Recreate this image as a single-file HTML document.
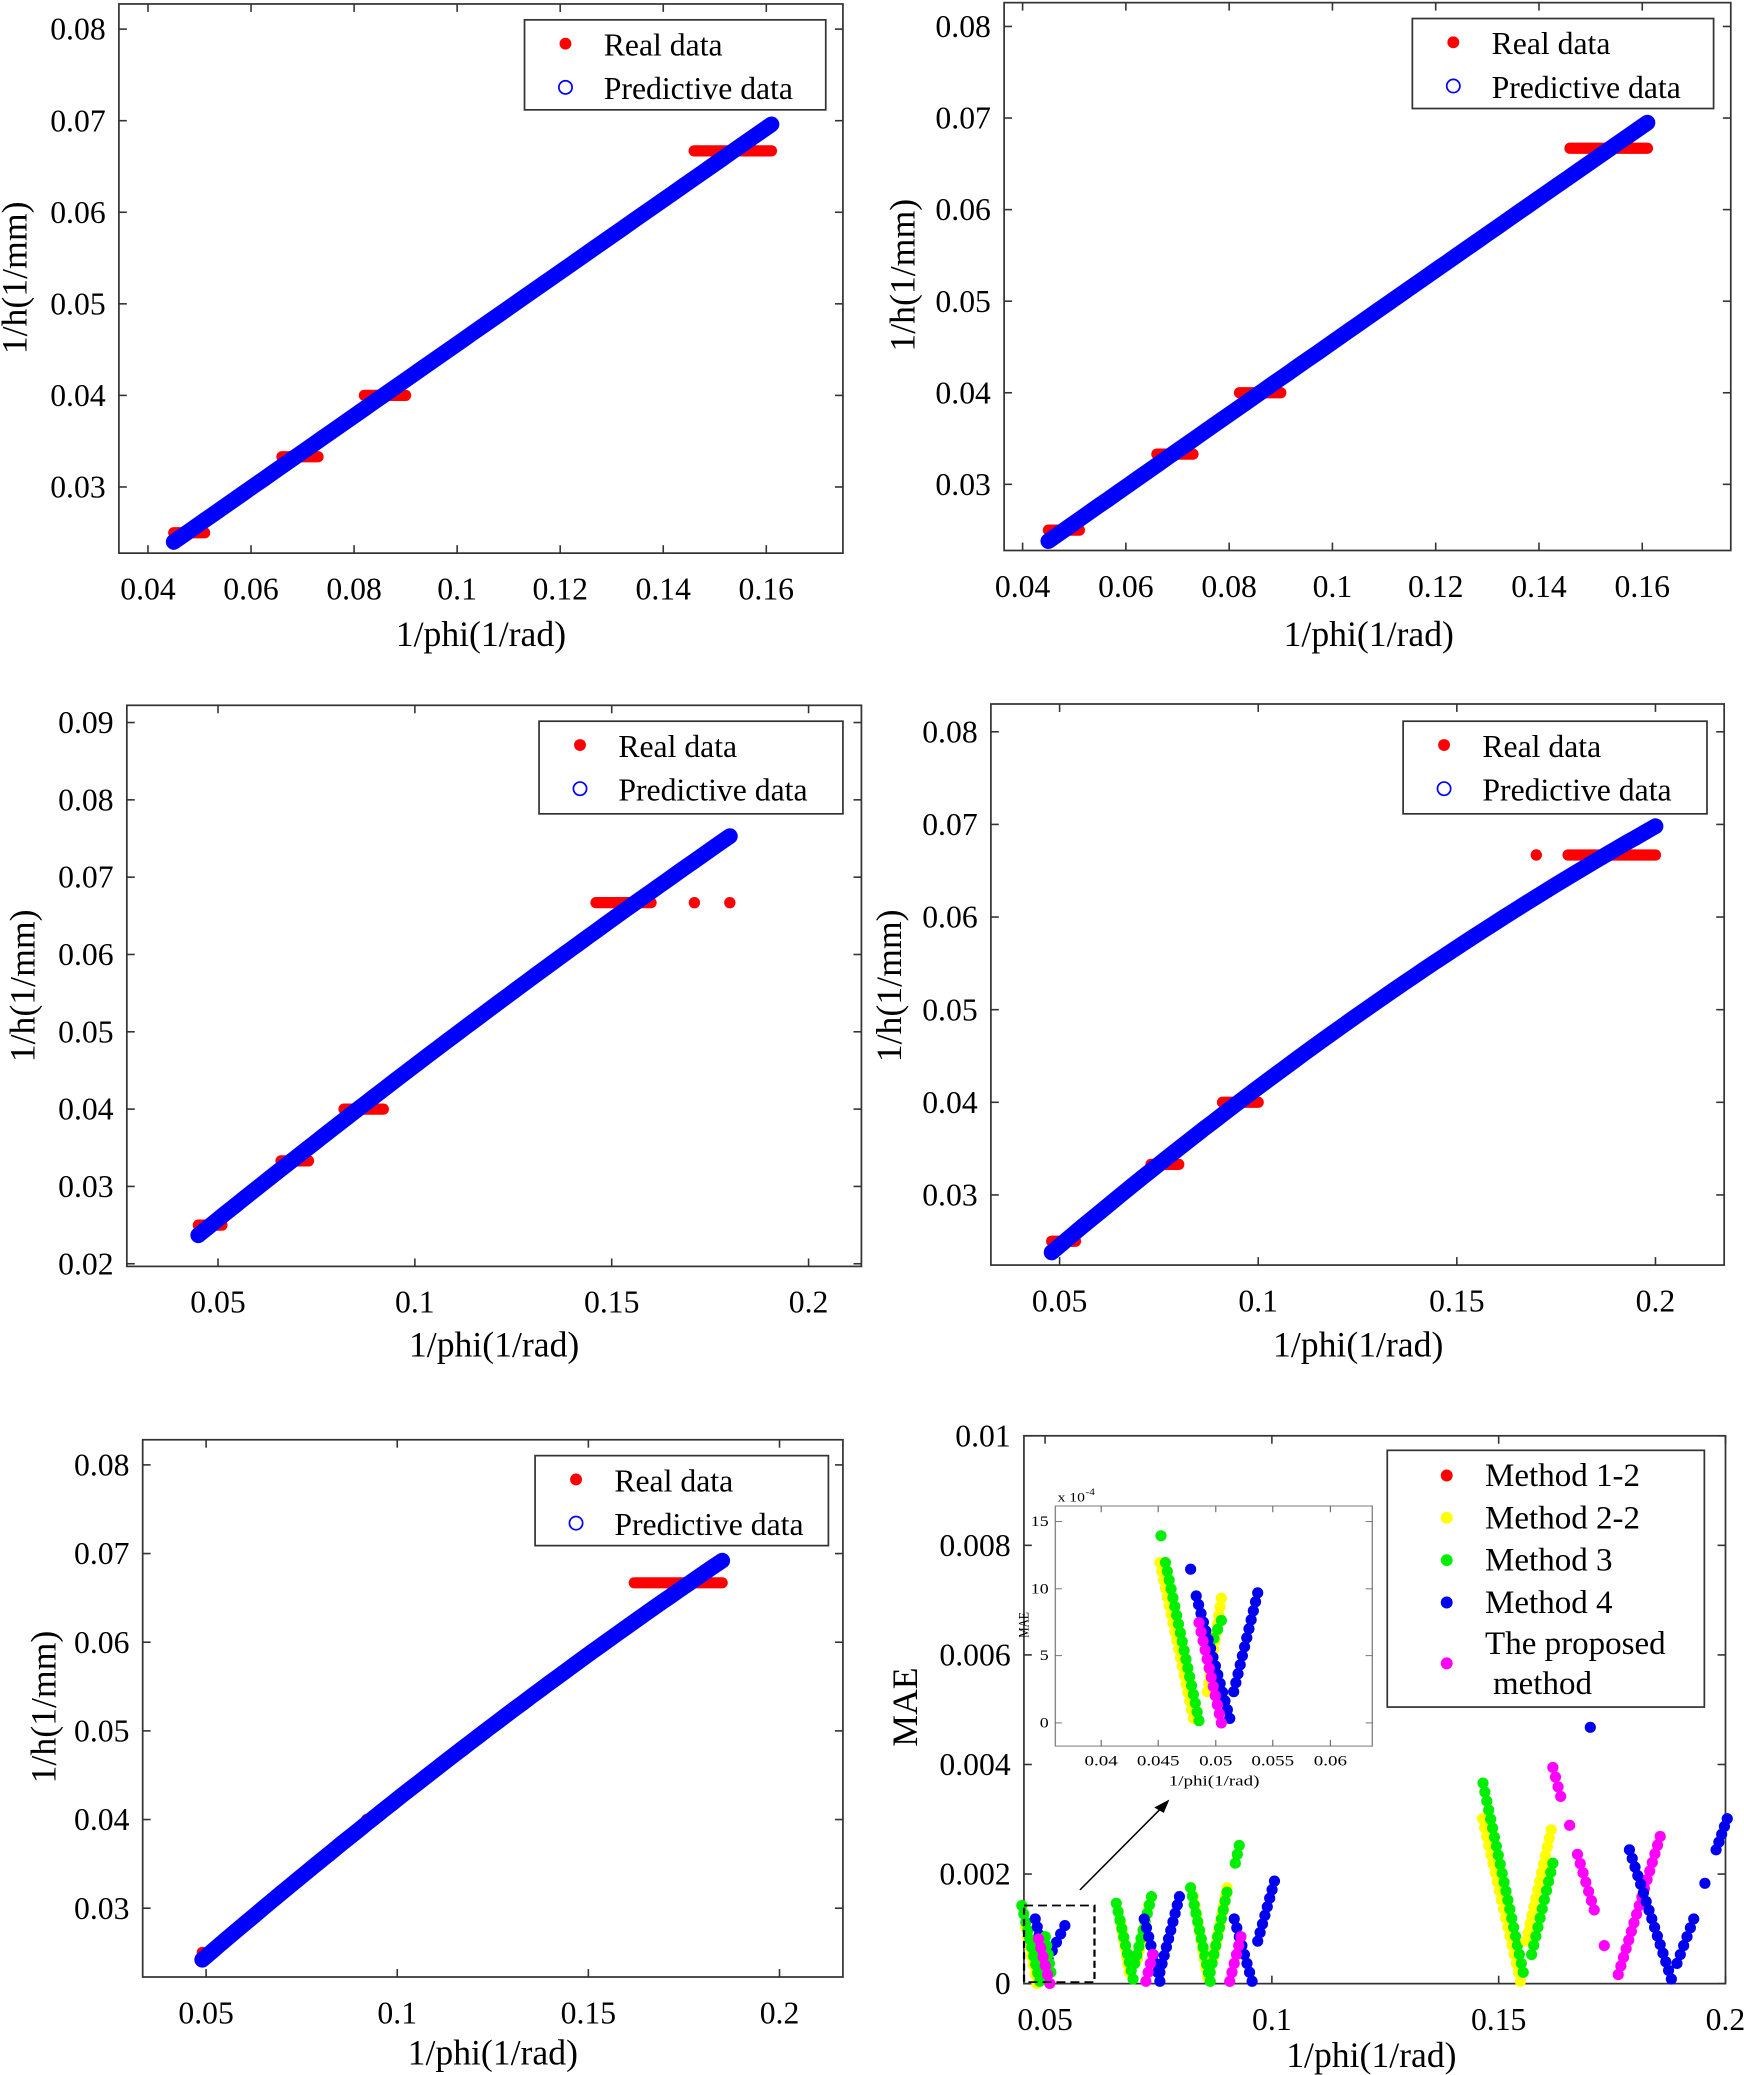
<!DOCTYPE html>
<html><head><meta charset="utf-8"><style>
html,body{margin:0;padding:0;background:#fff;}
svg{display:block;}
text{font-family:"Liberation Serif",serif;fill:#000;}
</style></head><body>
<svg id="s" xmlns="http://www.w3.org/2000/svg" width="1744" height="2075" viewBox="0 0 1744 2075">
<rect width="1744" height="2075" fill="#fff"/>
<g id="m" transform="scale(1.3212,1.3233)" font-family="Liberation Serif, serif"></g>
</svg>
<script>
const NS="http://www.w3.org/2000/svg";
const M=document.getElementById('m');
function el(tag,attrs,parent,txt){const e=document.createElementNS(NS,tag);for(const k in attrs)e.setAttribute(k,attrs[k]);if(tag==='text')e.setAttribute('font-family','Liberation Serif, serif');if(txt!==undefined)e.textContent=txt;(parent||M).appendChild(e);return e;}
function quad(p){
  const [a,b,c]=p;
  return x=>{const l0=(x-b[0])*(x-c[0])/((a[0]-b[0])*(a[0]-c[0]));const l1=(x-a[0])*(x-c[0])/((b[0]-a[0])*(b[0]-c[0]));const l2=(x-a[0])*(x-b[0])/((c[0]-a[0])*(c[0]-b[0]));return a[1]*l0+b[1]*l1+c[1]*l2;};
}
function panel(o){
  const X=v=>o.xp0+(v-o.xv0)*(o.xp1-o.xp0)/(o.xv1-o.xv0);
  const Y=v=>o.yp0+(v-o.yv0)*(o.yp1-o.yp0)/(o.yv1-o.yv0);
  const [L,T,R,B]=o.box;
  const g=el('g',{});
  const cp='c'+Math.round(L)+Math.round(T);
  const cl=el('clipPath',{id:cp},g);el('rect',{x:L,y:T,width:R-L,height:B-T},cl);
  const d=el('g',{'clip-path':'url(#'+cp+')'},g);
  o.red.forEach(r=>{ if(r.length===3) el('line',{x1:X(r[0]),y1:Y(r[2]),x2:X(r[1]),y2:Y(r[2]),stroke:'#ff0000','stroke-width':8.5,'stroke-linecap':'round'},d);
    else el('circle',{cx:X(r[0]),cy:Y(r[1]),r:4.3,fill:'#ff0000'},d);});
  const f=quad(o.curve);let pts=[];
  for(let i=0;i<=60;i++){const x=o.curve[0][0]+(o.curve[2][0]-o.curve[0][0])*i/60;pts.push(X(x).toFixed(1)+','+Y(f(x)).toFixed(1));}
  el('polyline',{points:pts.join(' '),fill:'none',stroke:'#0000ff','stroke-width':12,'stroke-linecap':'round','stroke-linejoin':'round'},d);
  axes(g,o,X,Y);
  const [lx,ly,lx2,ly2]=o.leg;
  el('rect',{x:lx,y:ly,width:lx2-lx,height:ly2-ly,fill:'#fff',stroke:'#333','stroke-width':1.3},g);
  el('circle',{cx:lx+31,cy:ly+18,r:4.5,fill:'#ff0000'},g);
  el('circle',{cx:lx+31,cy:ly+51,r:5,fill:'none',stroke:'#0000ff','stroke-width':1.3},g);
  el('text',{x:lx+60,y:ly+27,'font-size':24},g,'Real data');
  el('text',{x:lx+60,y:ly+60,'font-size':24},g,'Predictive data');
}
function axes(g,o,X,Y){
  const [L,T,R,B]=o.box;
  el('rect',{x:L,y:T,width:R-L,height:B-T,fill:'none',stroke:'#333','stroke-width':1.3},g);
  o.xt.forEach(t=>{const x=X(t[0]);el('line',{x1:x,y1:B,x2:x,y2:B-6,stroke:'#333','stroke-width':1.2},g);el('line',{x1:x,y1:T,x2:x,y2:T+6,stroke:'#333','stroke-width':1.2},g);
    el('text',{x:x,y:B+35,'font-size':o.fs||24,'text-anchor':'middle'},g,t[1]);});
  o.yt.forEach(t=>{const y=Y(t[0]);el('line',{x1:L,y1:y,x2:L+6,y2:y,stroke:'#333','stroke-width':1.2},g);el('line',{x1:R,y1:y,x2:R-6,y2:y,stroke:'#333','stroke-width':1.2},g);
    el('text',{x:L-10,y:y+8,'font-size':o.fs||24,'text-anchor':'end'},g,t[1]);});
  el('text',{x:o.xl[0],y:o.xl[1],'font-size':27,'text-anchor':'middle'},g,o.xlab||'1/phi(1/rad)');
  el('text',{x:0,y:0,'font-size':27,'text-anchor':'middle',transform:`translate(${o.yl[0]},${o.yl[1]}) rotate(-90)`},g,o.ylab||'1/h(1/mm)');
}
const xt1=[[0.04,'0.04'],[0.06,'0.06'],[0.08,'0.08'],[0.1,'0.1'],[0.12,'0.12'],[0.14,'0.14'],[0.16,'0.16']];
const yt1=[[0.03,'0.03'],[0.04,'0.04'],[0.05,'0.05'],[0.06,'0.06'],[0.07,'0.07'],[0.08,'0.08']];
const red1=[[0.045,0.051,0.025],[0.066,0.073,0.0333],[0.082,0.09,0.04],[0.146,0.161,0.0667]];
panel({box:[90,3,638,418],xv0:0.04,xv1:0.16,xp0:112,xp1:580,yv0:0.03,yv1:0.08,yp0:368,yp1:22,
  xt:xt1,yt:yt1,red:red1,curve:[[0.045,0.0240],[0.103,0.0468],[0.161,0.0696]],leg:[397,15,625,83],xl:[364,488],yl:[20,210]});
panel({box:[760,2,1310,416],xv0:0.04,xv1:0.16,xp0:774,xp1:1243,yv0:0.03,yv1:0.08,yp0:366,yp1:20,
  xt:xt1,yt:yt1,red:red1,curve:[[0.045,0.0238],[0.103,0.0467],[0.161,0.0695]],leg:[1069,14,1297,82],xl:[1036,488],yl:[692,208]});
const xt2=[[0.05,'0.05'],[0.1,'0.1'],[0.15,'0.15'],[0.2,'0.2']];
panel({box:[96,533,652,957],xv0:0.05,xv1:0.2,xp0:165,xp1:612,yv0:0.02,yv1:0.09,yp0:955,yp1:546,
  xt:xt2,yt:[[0.02,'0.02'],[0.03,'0.03'],[0.04,'0.04'],[0.05,'0.05'],[0.06,'0.06'],[0.07,'0.07'],[0.08,'0.08'],[0.09,'0.09']],
  red:[[0.045,0.051,0.025],[0.066,0.073,0.0333],[0.082,0.092,0.04],[0.146,0.16,0.0667],[0.171,0.0667],[0.18,0.0667]],
  curve:[[0.045,0.0237],[0.11,0.0495],[0.18,0.0753]],leg:[408,545,638,615],xl:[374,1025],yl:[26,745]});
panel({box:[750,532,1305,956],xv0:0.05,xv1:0.2,xp0:802,xp1:1253,yv0:0.03,yv1:0.08,yp0:903,yp1:553,
  xt:xt2,yt:yt1,red:[[0.048,0.054,0.025],[0.073,0.08,0.0333],[0.091,0.1,0.04],[0.178,0.2,0.0667],[0.17,0.0667]],
  curve:[[0.048,0.0238],[0.125,0.0494],[0.2,0.0698]],leg:[1062,545,1292,615],xl:[1028,1025],yl:[682,745]});
panel({box:[108,1088,638,1494],xv0:0.05,xv1:0.2,xp0:156,xp1:590,yv0:0.03,yv1:0.08,yp0:1442,yp1:1107,
  xt:xt2,yt:yt1,red:[[0.049,0.025],[0.092,0.04],[0.162,0.185,0.0667]],
  curve:[[0.049,0.0242],[0.117,0.0480],[0.185,0.0692]],leg:[405,1100,627,1168],xl:[373,1560],yl:[42,1290]});
(function(){
  const X=v=>791+(v-0.05)*(1306-791)/0.15, Y=v=>1499-v*(1499-1085)/0.01;
  const g=el('g',{});
  const o={box:[775,1085,1306,1499],fs:24,xt:[[0.05,'0.05'],[0.1,'0.1'],[0.15,'0.15'],[0.2,'0.2']],
    yt:[[0,'0'],[0.002,'0.002'],[0.004,'0.004'],[0.006,'0.006'],[0.008,'0.008'],[0.01,'0.01']],xl:[1038,1562],yl:[694,1290],ylab:'MAE'};
  axes(g,o,X,Y);
  const z=el('g',{transform:'translate(660,1042.8) scale(0.4231,0.3366)'},g);
  const C={r:'#ff0000',y:'#ffff00',g:'#00ee00',b:'#0000ee',m:'#ff00ff'};
  function seg(c,x1,y1,x2,y2,rr,n){rr=rr||10;if(x2===undefined){el('ellipse',{cx:x1,cy:y1,rx:rr,ry:rr*1.25,fill:C[c]},z);return;}
    n=n||Math.max(2,Math.round(Math.hypot((x2-x1),(y2-y1)*1.2)/24));for(let i=0;i<=n;i++){el('ellipse',{cx:x1+(x2-x1)*i/n,cy:y1+(y2-y1)*i/n,rx:rr,ry:rr*1.25,fill:C[c]},z);}}
  const S=[
   ['y',275,1230,295,1355],['g',268,1180,300,1350],['b',292,1210,310,1300],['b',315,1300,345,1225],['g',310,1250,320,1330],['m',298,1255,318,1355],
   ['y',445,1220,460,1330],['g',437,1175,467,1345],['y',475,1300,495,1180],['g',470,1310,500,1160],['b',487,1210,515,1350],['b',515,1330,550,1160],['m',490,1350,502,1290],
   ['y',575,1160,600,1340],['g',570,1140,605,1350],['y',610,1300,635,1140],['g',605,1330,635,1150],['g',650,1085,657,1045],['b',648,1210,680,1350],['b',690,1260,720,1125],['m',640,1350,660,1250],
   ['y',1092,985,1160,1350],['g',1093,905,1165,1330],['y',1170,1260,1215,1010],['g',1180,1290,1218,1085],['m',1218,870,1232,935],['m',1248,1000],
   ['m',1262,1065,1292,1190],['m',1310,1270],['m',1335,1335,1410,1025],['b',1355,1055,1430,1345],['b',1440,1310,1470,1210],['b',1490,1130],['b',1510,1055,1530,985],['b',1285,780]
  ];
  S.forEach(s=>seg(...s));
  el('rect',{x:272,y:1180,width:126,height:172,fill:'none',stroke:'#000','stroke-width':4,'stroke-dasharray':'16,9'},z);
  el('line',{x1:372,y1:1145,x2:520,y2:958,stroke:'#000','stroke-width':3},z);
  el('polygon',{points:'532,942 505,960 522,972',fill:'#000'},z);
  el('rect',{x:328,y:283,width:567,height:539,fill:'#fff',stroke:'#888','stroke-width':2.5},z);
  [[0.04,410],[0.045,512],[0.05,615],[0.055,717],[0.06,820]].forEach(t=>{el('line',{x1:t[1],y1:822,x2:t[1],y2:808,stroke:'#666','stroke-width':2},z);el('line',{x1:t[1],y1:283,x2:t[1],y2:297,stroke:'#666','stroke-width':2},z);
     el('text',{x:t[1],y:866,'font-size':34,'text-anchor':'middle'},z,String(t[0]));});
  [[15,318],[10,469],[5,619],[0,770]].forEach(t=>{el('line',{x1:328,y1:t[1],x2:340,y2:t[1],stroke:'#666','stroke-width':2},z);el('line',{x1:895,y1:t[1],x2:883,y2:t[1],stroke:'#666','stroke-width':2},z);
     el('text',{x:316,y:t[1]+10,'font-size':32,'text-anchor':'end'},z,String(t[0]));});
  el('text',{x:332,y:273,'font-size':28},z,'x 10');el('text',{x:382,y:258,'font-size':20},z,'-4');
  el('text',{x:612,y:910,'font-size':34,'text-anchor':'middle'},z,'1/phi(1/rad)');
  el('text',{x:0,y:0,'font-size':26,'text-anchor':'middle',transform:'translate(280,550) rotate(-90)'},z,'MAE');
  [['g',517,350],['y',515,410,575,760],['g',525,410,585,765],['y',600,700,625,490],['g',605,600,625,540],['b',570,425],['b',580,485,640,760],['b',647,700,690,478],['m',585,545,625,770]].forEach(s=>seg(...s));
  el('rect',{x:1050,y:1096,width:240,height:194,fill:'#fff',stroke:'#333','stroke-width':1.3},g);
  const lg=[['r','Method 1-2',1115],['y','Method 2-2',1147],['g','Method 3',1179],['b','Method 4',1211],['m','The proposed',1242]];
  lg.forEach(l=>{el('circle',{cx:1095,cy:l[0]==='m'?1257:l[2],r:4.5,fill:C[l[0]]},g);el('text',{x:1124,y:l[2]+8,'font-size':25},g,l[1]);});
  el('text',{x:1130,y:1280,'font-size':25},g,'method');
})();
</script>
</body></html>
